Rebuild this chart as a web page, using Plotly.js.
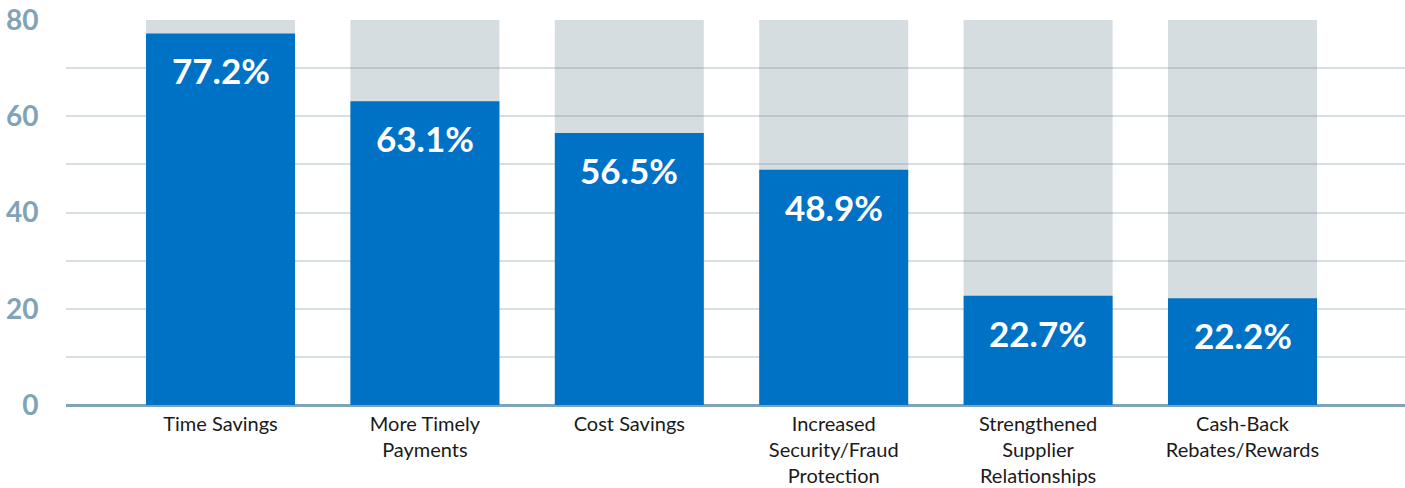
<!DOCTYPE html>
<html>
<head>
<meta charset="utf-8">
<script src="https://cdn.plot.ly/plotly-3.0.1.min.js"></script>
<style>html,body{margin:0;padding:0;background:#fff;}#chart{width:1405px;height:488px;}</style>
</head>
<body>
<div id="chart"></div>
<script>
const categories = ["Time Savings", "More Timely<br>Payments", "Cost Savings", "Increased<br>Security/Fraud<br>Protection", "Strengthened<br>Supplier<br>Relationships", "Cash-Back<br>Rebates/Rewards"];
const values = [77.2, 63.1, 56.5, 48.9, 22.7, 22.2];
const maxValue = 80;
const backgroundValues = categories.map(() => maxValue);
const yTickVals = [0, 10, 20, 30, 40, 50, 60, 70, 80];
const yTickText = ["0", "", "20", "", "40", "", "60", "", "80"];

const xs = categories.map((c, i) => i);

const bgTrace = {
  type: "bar", x: xs, y: backgroundValues,
  marker: {color: "rgba(99,129,144,0.27)", line: {width: 0}},
  width: 0.729, hoverinfo: "skip", showlegend: false
};
const mainTrace = {
  type: "bar", x: xs, y: values,
  marker: {color: "#0072c6", line: {width: 0}},
  width: 0.729, hoverinfo: "skip", showlegend: false
};

const annotations = values.map((v, i) => ({
  x: i, y: v, xref: "x", yref: "y",
  text: v.toFixed(1) + "%", showarrow: false,
  yanchor: "middle", yshift: -37,
  font: {family: "Lato, sans-serif", size: 35, color: "#ffffff", weight: 700}
}));

const layout = {
  width: 1405, height: 488,
  margin: {l: 66, r: 0, t: 20, b: 83, pad: 0},
  paper_bgcolor: "#ffffff", plot_bgcolor: "#ffffff",
  barmode: "overlay",
  showlegend: false,
  xaxis: {
    range: [-0.756, 5.795],
    tickvals: xs, ticktext: categories,
    tickfont: {family: "Lato, sans-serif", size: 20, color: "#1a1a1a"},
    showgrid: false, zeroline: false, showline: false,
    ticks: "outside", ticklen: 1, tickcolor: "rgba(0,0,0,0)"
  },
  yaxis: {
    range: [0, 80], fixedrange: true,
    tickvals: yTickVals, ticktext: yTickText,
    tickfont: {family: "Lato, sans-serif", size: 28, color: "#80a3b8", weight: 700},
    showgrid: true, gridcolor: "#d5dfe5", gridwidth: 2,
    zeroline: true, zerolinecolor: "#80a3b8", zerolinewidth: 3,
    showline: false,
    ticks: "outside", ticklen: 21, tickcolor: "rgba(0,0,0,0)"
  },
  annotations: annotations
};

Plotly.newPlot("chart", [bgTrace, mainTrace], layout, {displayModeBar: false, staticPlot: true});
</script>
</body>
</html>
